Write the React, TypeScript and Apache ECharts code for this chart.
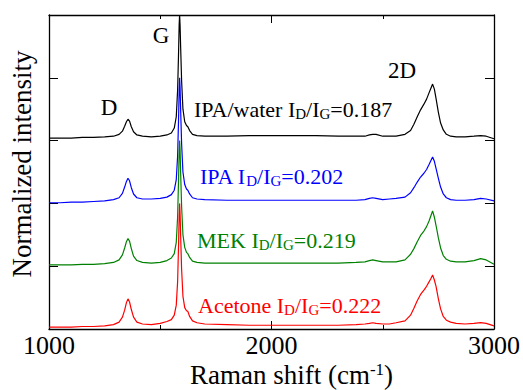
import React, { useEffect, useRef } from 'react';
import * as echarts from 'echarts';

// Raman shift (cm-1) sample positions, shared by all spectra
const ramanShift = [
  1000, 1050, 1100, 1150, 1200, 1250, 1290, 1315, 1330, 1340,
  1348, 1355, 1362, 1370, 1380, 1395, 1420, 1460, 1500, 1530,
  1550, 1563, 1572, 1578, 1582, 1585, 1587, 1589, 1592, 1596,
  1602, 1610, 1618, 1624, 1632, 1645, 1665, 1700, 1800, 1900,
  2000, 2100, 2200, 2300, 2380, 2420, 2440, 2455, 2470, 2500,
  2530, 2560, 2600, 2625, 2640, 2655, 2670, 2685, 2697, 2708,
  2716, 2724, 2732, 2740, 2750, 2760, 2772, 2786, 2805, 2830,
  2870, 2910, 2940, 2965, 3000,
];

// Stacked normalized intensities
const ipaWater = [
  3.04, 3.04, 3.04, 3.05, 3.05, 3.06, 3.07, 3.1, 3.15, 3.23,
  3.3, 3.34, 3.31, 3.22, 3.14, 3.09, 3.07, 3.06, 3.07, 3.09,
  3.12, 3.2, 3.38, 3.8, 4.35, 4.85, 5.0, 4.85, 4.45, 3.95,
  3.5, 3.3, 3.24, 3.22, 3.16, 3.1, 3.08, 3.07, 3.07, 3.08,
  3.08, 3.08, 3.08, 3.07, 3.07, 3.07, 3.09, 3.1, 3.1, 3.07,
  3.07, 3.07, 3.1, 3.16, 3.26, 3.38, 3.49, 3.58, 3.66, 3.76,
  3.83, 3.9, 3.82, 3.66, 3.45, 3.28, 3.17, 3.1, 3.07, 3.06,
  3.06, 3.07, 3.08, 3.07, 3.03,
];
const ipa = [
  2.01, 2.01, 2.02, 2.02, 2.03, 2.04, 2.06, 2.09, 2.16, 2.26,
  2.35, 2.4, 2.36, 2.25, 2.15, 2.09, 2.07, 2.07, 2.08, 2.1,
  2.14, 2.21, 2.38, 2.75, 3.3, 3.8, 4.0, 3.85, 3.45, 2.95,
  2.5, 2.3, 2.23, 2.21, 2.15, 2.09, 2.07, 2.06, 2.05, 2.05,
  2.05, 2.05, 2.05, 2.05, 2.05, 2.06, 2.08, 2.09, 2.08, 2.06,
  2.07, 2.08, 2.1, 2.17, 2.25, 2.34, 2.42, 2.48, 2.54, 2.62,
  2.68, 2.74, 2.67, 2.55, 2.4, 2.26, 2.15, 2.09, 2.06, 2.05,
  2.05, 2.06, 2.08, 2.07, 2.04,
];
const mek = [
  1.02, 1.02, 1.02, 1.03, 1.03, 1.04, 1.06, 1.1, 1.18, 1.29,
  1.39, 1.44, 1.4, 1.28, 1.16, 1.09, 1.06, 1.05, 1.06, 1.09,
  1.13, 1.2, 1.38, 1.78, 2.35, 2.82, 3.0, 2.86, 2.45, 1.95,
  1.5, 1.3, 1.22, 1.2, 1.14, 1.08, 1.06, 1.05, 1.05, 1.05,
  1.05, 1.05, 1.05, 1.05, 1.06, 1.07, 1.09, 1.1, 1.09, 1.07,
  1.07, 1.07, 1.1, 1.19, 1.28, 1.39, 1.49, 1.56, 1.63, 1.72,
  1.8, 1.88, 1.78, 1.64, 1.45, 1.29, 1.17, 1.11, 1.08, 1.07,
  1.07, 1.09, 1.12, 1.1, 1.03,
];
const acetone = [
  0.03, 0.03, 0.03, 0.04, 0.04, 0.05, 0.07, 0.11, 0.19, 0.3,
  0.42, 0.48, 0.43, 0.31, 0.19, 0.11, 0.08, 0.07, 0.09, 0.12,
  0.15, 0.22, 0.38, 0.75, 1.3, 1.8, 2.0, 1.85, 1.45, 0.95,
  0.52, 0.34, 0.29, 0.28, 0.2, 0.13, 0.1, 0.08, 0.07, 0.06,
  0.06, 0.06, 0.06, 0.06, 0.07, 0.08, 0.09, 0.1, 0.09, 0.08,
  0.08, 0.1, 0.13, 0.22, 0.33, 0.45, 0.55, 0.62, 0.68, 0.75,
  0.8, 0.86, 0.78, 0.67, 0.48, 0.32, 0.2, 0.14, 0.11, 0.09,
  0.08, 0.09, 0.1, 0.09, 0.05,
];

const seriesNames = ['IPA/water', 'IPA', 'MEK', 'Acetone'];
const seriesColors = ['#000000', '#0000ff', '#008000', '#ff0000'];
const ratioLabels = ['0.187', '0.202', '0.219', '0.222'];
const peakNames = ['D', 'G', '2D'];
const xTitle = 'Raman shift (cm';
const xTitleSup = '-1';
const yTitle = 'Normalized intensity';

const FONT = "'Liberation Serif', 'Times New Roman', Times, serif";

export default function App() {
  const ref = useRef<HTMLDivElement>(null);

  useEffect(() => {
    if (!ref.current) return;
    const chart = echarts.init(ref.current, null, { renderer: 'svg' });
    const spectra = [ipaWater, ipa, mek, acetone];

    const axisCommon = {
      type: 'value' as const,
      splitLine: { show: false },
      axisLine: { show: true, onZero: false, lineStyle: { color: '#000', width: 1.3 } },
    };

    const annoPos = [
      { x: 194, y: 109.6 },
      { x: 200, y: 176.9 },
      { x: 197, y: 240.9 },
      { x: 198, y: 305.9 },
    ];
    const peakPos = [
      { x: 109, y: 107.5 },
      { x: 161, y: 35.5 },
      { x: 402, y: 70.5 },
    ];

    const graphics: any[] = [];
    seriesNames.forEach((name, i) => {
      graphics.push({
        type: 'text',
        x: annoPos[i].x,
        y: annoPos[i].y,
        style: {
          text: `${name} I{s|D}/I{s|G}=${ratioLabels[i]}`,
          fill: seriesColors[i],
          fontFamily: FONT,
          fontSize: 22,
          lineHeight: 24,
          textAlign: 'left',
          textVerticalAlign: 'middle',
          rich: {
            s: {
              fontFamily: FONT,
              fontSize: 15,
              lineHeight: 10,
              verticalAlign: 'bottom',
              fill: seriesColors[i],
            },
          },
        },
      });
    });
    peakNames.forEach((p, i) => {
      graphics.push({
        type: 'text',
        x: peakPos[i].x,
        y: peakPos[i].y,
        style: {
          text: p,
          fill: '#000',
          fontFamily: FONT,
          fontSize: 23,
          textAlign: 'center',
          textVerticalAlign: 'middle',
        },
      });
    });
    graphics.push({
      type: 'text',
      x: 190,
      y: 374.5,
      style: {
        text: `${xTitle}{p|${xTitleSup}})`,
        fill: '#000',
        fontFamily: FONT,
        fontSize: 27,
        lineHeight: 28,
        textAlign: 'left',
        textVerticalAlign: 'middle',
        rich: {
          p: { fontFamily: FONT, fontSize: 17, lineHeight: 12, verticalAlign: 'top', fill: '#000' },
        },
      },
    });
    graphics.push({
      type: 'text',
      x: 22,
      y: 164,
      rotation: Math.PI / 2,
      style: {
        text: yTitle,
        fill: '#000',
        fontFamily: FONT,
        fontSize: 27,
        textAlign: 'center',
        textVerticalAlign: 'middle',
      },
    });

    chart.setOption({
      animation: false,
      backgroundColor: '#ffffff',
      grid: { left: 49, right: 28, top: 15, bottom: 61, containLabel: false },
      xAxis: [
        {
          ...axisCommon,
          position: 'bottom',
          min: 1000,
          max: 3000,
          interval: 1000,
          axisTick: { show: true, inside: true, length: 8, lineStyle: { color: '#000', width: 1 } },
          minorTick: { show: true, splitNumber: 2, length: 4, lineStyle: { color: '#000', width: 1 } },
          axisLabel: {
            show: true,
            color: '#000',
            fontFamily: FONT,
            fontSize: 26,
            margin: 3,
            formatter: (v: number) => String(v),
          },
        },
        {
          ...axisCommon,
          position: 'top',
          min: 1000,
          max: 3000,
          interval: 1000,
          axisTick: { show: true, inside: true, length: 8, lineStyle: { color: '#000', width: 1 } },
          minorTick: { show: true, splitNumber: 2, length: 4, lineStyle: { color: '#000', width: 1 } },
          axisLabel: { show: false },
        },
      ],
      yAxis: [
        {
          ...axisCommon,
          position: 'left',
          min: 0,
          max: 5,
          interval: 1,
          axisTick: { show: true, inside: true, length: 9, lineStyle: { color: '#000', width: 1 } },
          axisLabel: { show: false },
        },
        {
          ...axisCommon,
          position: 'right',
          min: 0,
          max: 5,
          interval: 1,
          axisTick: { show: true, inside: true, length: 9, lineStyle: { color: '#000', width: 1 } },
          axisLabel: { show: false },
        },
      ],
      series: spectra.map((vals, i) => ({
        name: seriesNames[i],
        type: 'line',
        xAxisIndex: 0,
        yAxisIndex: 0,
        showSymbol: false,
        symbol: 'none',
        clip: true,
        lineStyle: { color: seriesColors[i], width: 1.2 },
        data: ramanShift.map((x, k) => [x, vals[k]]),
      })),
      graphic: graphics,
    });

    return () => chart.dispose();
  }, []);

  return (
    <div
      ref={ref}
      style={{ position: 'fixed', left: 0, top: 0, width: 523, height: 390, background: '#fff' }}
    />
  );
}
